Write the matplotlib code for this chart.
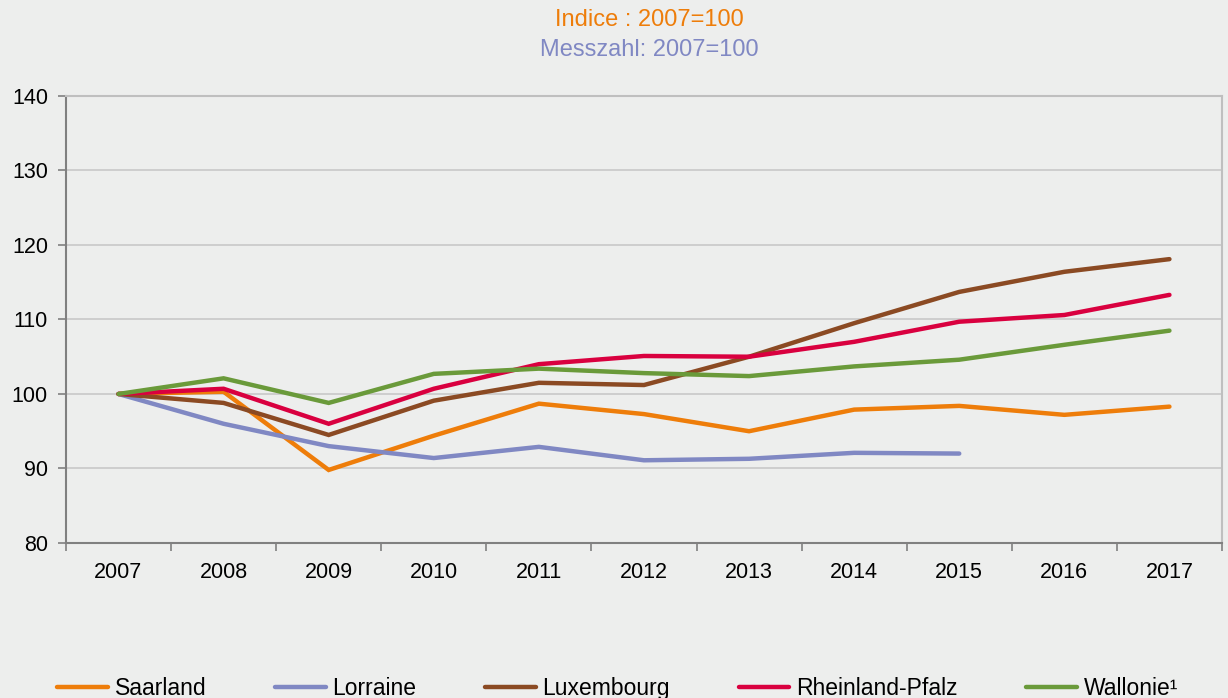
import matplotlib
matplotlib.use("Agg")
import matplotlib.pyplot as plt

plt.rcParams['font.family'] = ['Liberation Sans', 'DejaVu Sans']

years = ["2007", "2008", "2009", "2010", "2011", "2012", "2013", "2014", "2015", "2016", "2017"]
saarland = [100, 100.3, 89.8, 94.4, 98.7, 97.3, 95.0, 97.9, 98.4, 97.2, 98.3]
lorraine = [100, 96.0, 93.0, 91.4, 92.9, 91.1, 91.3, 92.1, 92.0]
luxembourg = [100, 98.8, 94.5, 99.1, 101.5, 101.2, 105.0, 109.5, 113.7, 116.4, 118.1]
rheinland = [100, 100.7, 96.0, 100.7, 104.0, 105.1, 105.0, 107.0, 109.7, 110.6, 113.3]
wallonie = [100, 102.1, 98.8, 102.7, 103.4, 102.8, 102.4, 103.7, 104.6, 106.6, 108.5]
yticks = [80, 90, 100, 110, 120, 130, 140]

bg = '#EDEEED'
fig = plt.figure(figsize=(12.28, 6.98), dpi=100, facecolor=bg)
ax = fig.add_axes([0.0537, 0.2221, 0.9414, 0.6404], facecolor=bg)

series = [
    ("Saarland", saarland, '#EE7D0A'),
    ("Lorraine", lorraine, '#8088C3'),
    ("Luxembourg", luxembourg, '#8B4A23'),
    ("Rheinland-Pfalz", rheinland, '#D9003F'),
    ("Wallonie¹", wallonie, '#6A9A3A'),
]
for name, vals, col in series:
    ax.plot(range(len(vals)), vals, color=col, lw=3.2, label=name,
            solid_capstyle='round', solid_joinstyle='miter')

ax.set_xlim(-0.5, len(years) - 0.5)
ax.set_ylim(80, 140)
ax.set_yticks(yticks)
ax.set_yticklabels([str(v) for v in yticks], fontsize=15.5)
ax.set_xticks(range(len(years)))
ax.set_xticklabels(years, fontsize=15.5)
ax.set_xticks([i - 0.5 for i in range(len(years) + 1)], minor=True)
ax.tick_params(axis='x', which='major', length=0, pad=14)
ax.tick_params(axis='x', which='minor', length=6, color='#808080', width=1.2)
ax.tick_params(axis='y', length=6, color='#808080', width=1.2, pad=7)
ax.grid(axis='y', color='#C8C8C8', lw=1.2, zorder=0)
ax.set_axisbelow(True)
for s in ['left', 'bottom']:
    ax.spines[s].set_color('#808080')
    ax.spines[s].set_linewidth(1.5)
ax.spines['right'].set_color('#BFBFBF')
ax.spines['right'].set_linewidth(1.5)
ax.spines['top'].set_color('#BFBFBF')
ax.spines['top'].set_linewidth(1.5)

fig.text(0.529, 0.971, "Indice : 2007=100", color='#EE7D0A', fontsize=17, ha='center', va='center')
fig.text(0.529, 0.929, "Messzahl: 2007=100", color='#8088C3', fontsize=17, ha='center', va='center')

fig.legend(loc='lower center', bbox_to_anchor=(0.503, -0.032), ncol=5, frameon=False,
           fontsize=16.5, handlelength=2.2, handletextpad=0.3, columnspacing=3.0)

fig.savefig("out.png", dpi=100, facecolor=bg)
